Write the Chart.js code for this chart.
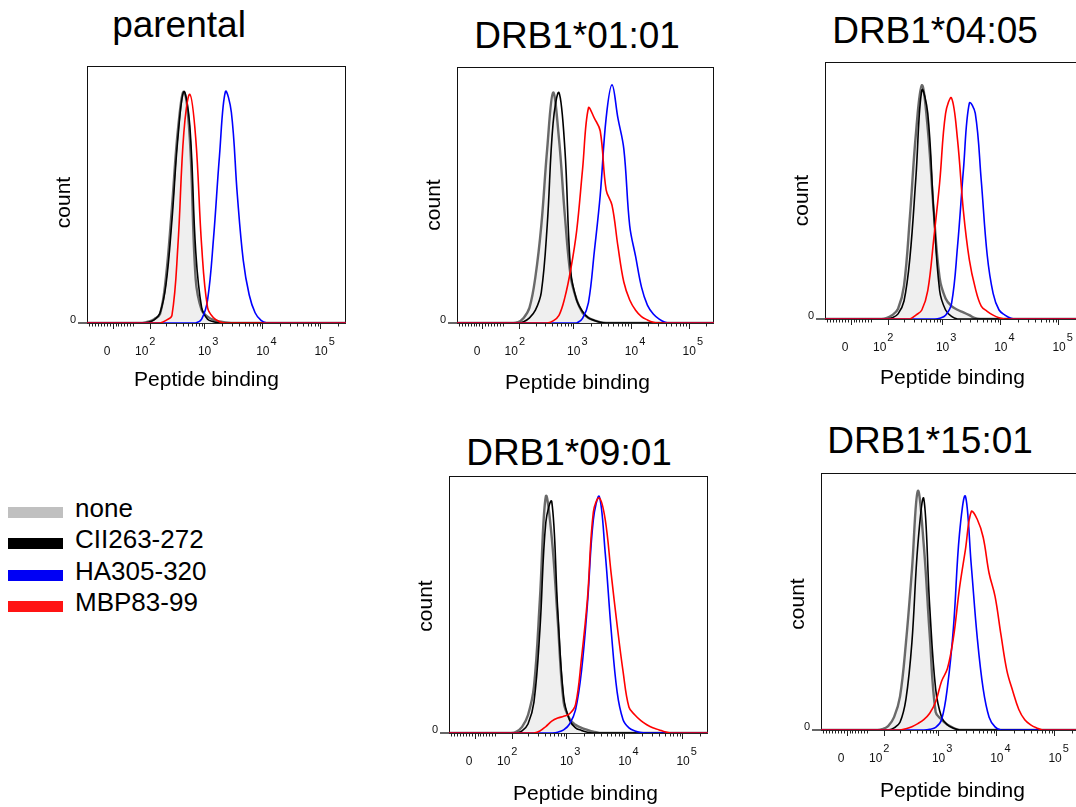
<!DOCTYPE html>
<html>
<head>
<meta charset="utf-8">
<title>Peptide binding - HLA-DR panels</title>
<script src="https://cdn.jsdelivr.net/npm/chart.js"></script>
<style>
    body { margin: 0; background: #fff; }
    #page {
        position: relative;
        width: 1076px;
        height: 807px;
        overflow: hidden;
        font-family: "Liberation Sans", Arial, sans-serif;
        color: #000;
    }
    .panel { position: absolute; }
    .panel-title {
        position: absolute;
        font-size: 37px;
        line-height: 37px;
        white-space: nowrap;
        transform: translateX(-50%);
    }
    .legend-swatch { position: absolute; left: 8px; width: 55px; height: 11px; }
    .legend-text {
        position: absolute;
        left: 75px;
        font-size: 26px;
        line-height: 26px;
        white-space: nowrap;
    }
</style>
</head>
<body>
<div id="page"></div>

<script>
    // series and panels
    var seriesNames = ['none', 'CII263-272', 'HA305-320', 'MBP83-99'];
    var panelTitles = ['parental', 'DRB1*01:01', 'DRB1*04:05', 'DRB1*09:01', 'DRB1*15:01'];
    var xAxisTitle = 'Peptide binding';
    var yAxisTitle = 'count';

    // histogram bins on the display (biexponential) channel axis
    var binX = [1.0,
        1.8, 1.9, 2.0, 2.1, 2.2, 2.3, 2.4, 2.5, 2.6, 2.7,
        2.8, 2.9, 3.0, 3.1, 3.2, 3.3, 3.4, 3.5, 3.6, 3.7,
        3.8, 3.9, 4.0, 4.1, 4.2, 4.3, 4.4, 4.5, 4.6, 4.7,
        4.8, 4.9, 5.0, 5.6];

    // counts, % of mode
    var parentalNone = [0,
        0, 0, 0, 0.5, 1.5, 3.5, 18, 45, 75, 90,
        72, 17, 5, 2.5, 1.2, 0.6, 0.2, 0, 0, 0,
        0, 0, 0, 0, 0, 0, 0, 0, 0, 0,
        0, 0, 0, 0];
    var parentalCII = [0,
        0, 0, 0, 0.3, 1.2, 4, 15, 40, 72, 90,
        77, 28, 6, 1.5, 0.5, 0, 0, 0, 0, 0,
        0, 0, 0, 0, 0, 0, 0, 0, 0, 0,
        0, 0, 0, 0];
    var parentalHA = [0,
        0, 0, 0, 0, 0, 0, 0, 0, 0, 0,
        0, 0, 1.5, 9, 33, 65, 90, 82, 50, 24.5,
        11, 4, 1, 0, 0, 0, 0, 0, 0, 0,
        0, 0, 0, 0];
    var parentalMBP = [0,
        0, 0, 0, 0, 0, 0, 1, 3, 30, 74,
        89, 72, 30, 6, 2, 0.5, 0, 0, 0, 0,
        0, 0, 0, 0, 0, 0, 0, 0, 0, 0,
        0, 0, 0, 0];

    var drb0101None = [0,
        0, 0, 0, 0.3, 2, 6, 18, 38, 68, 90,
        72, 42, 18, 9, 4, 2, 1, 0.3, 0, 0,
        0, 0, 0, 0, 0, 0, 0, 0, 0, 0,
        0, 0, 0, 0];
    var drb0101CII = [0,
        0, 0, 0, 0, 0.5, 2, 5, 12, 38, 78,
        90, 68, 20, 9, 4.5, 2, 1, 0.3, 0, 0,
        0, 0, 0, 0, 0, 0, 0, 0, 0, 0,
        0, 0, 0, 0];
    var drb0101HA = [0,
        0, 0, 0, 0, 0, 0, 0, 0, 0, 0,
        0, 0, 0, 0, 1.8, 8, 28, 50, 80, 93,
        80, 68, 38, 26, 14, 7, 3.5, 1.5, 0.3, 0,
        0, 0, 0, 0];
    var drb0101MBP = [0,
        0, 0, 0, 0, 0, 0, 0, 0, 0, 0.8,
        3, 10, 21, 36, 60, 84, 80, 75, 52, 46,
        30, 16, 9, 5, 2.5, 1.2, 0.3, 0, 0, 0,
        0, 0, 0, 0];

    var drb0405None = [0,
        0, 0, 0, 0.3, 1.5, 4, 13, 40, 72, 91,
        74, 42, 16, 8, 5, 3.6, 2.6, 1.5, 0.3, 0,
        0, 0, 0, 0, 0, 0, 0, 0, 0, 0,
        0, 0, 0, 0];
    var drb0405CII = [0,
        0, 0, 0, 0, 0.5, 2, 7, 24, 55, 89,
        80, 42, 11, 3.5, 1, 0, 0, 0, 0, 0,
        0, 0, 0, 0, 0, 0, 0, 0, 0, 0,
        0, 0, 0, 0];
    var drb0405HA = [0,
        0, 0, 0, 0, 0, 0, 0, 0, 0, 0,
        0, 0, 0.3, 1.5, 6, 28, 58, 84, 80, 54,
        25, 10, 3.5, 1.5, 0.3, 0, 0, 0, 0, 0,
        0, 0, 0, 0];
    var drb0405MBP = [0,
        0, 0, 0, 0, 0, 0, 0, 0, 1.5, 3.5,
        11, 31, 53, 80, 86, 70, 42, 23, 12, 5,
        3, 1.5, 0.5, 0, 0, 0, 0, 0, 0, 0,
        0, 0, 0, 0];

    var drb0901None = [0,
        0, 0, 0, 0, 0.5, 2.4, 7, 18, 52, 92,
        76, 44, 12, 5.5, 3.2, 2, 1.2, 0.5, 0, 0,
        0, 0, 0, 0, 0, 0, 0, 0, 0, 0,
        0, 0, 0, 0];
    var drb0901CII = [0,
        0, 0, 0, 0, 0, 0.8, 3.5, 12, 40, 82,
        90, 48, 14, 5, 2, 1, 0.3, 0, 0, 0,
        0, 0, 0, 0, 0, 0, 0, 0, 0, 0,
        0, 0, 0, 0];
    var drb0901HA = [0,
        0, 0, 0, 0, 0, 0, 0, 0, 0, 0,
        0, 0.3, 1.2, 3.5, 9, 24, 50, 83, 92, 70,
        40, 16, 5.2, 2, 0.8, 0.2, 0, 0, 0, 0,
        0, 0, 0, 0];
    var drb0901MBP = [0,
        0, 0, 0, 0, 0, 0, 0, 0, 0.8, 2.5,
        4.6, 5.8, 6.5, 7.5, 11, 29, 52, 86, 91.5, 83,
        62, 42, 24, 10, 7, 4.8, 3.2, 2, 1.3, 0.5,
        0, 0, 0, 0];

    var drb1501None = [0,
        0, 0, 0, 0.3, 1.5, 5, 13, 34, 62, 93,
        72, 37, 7, 4, 2, 0.8, 0, 0, 0, 0,
        0, 0, 0, 0, 0, 0, 0, 0, 0, 0,
        0, 0, 0, 0];
    var drb1501CII = [0,
        0, 0, 0, 0, 0, 0.8, 3, 12, 34, 72,
        90, 48, 16, 5, 2, 0.7, 0, 0, 0, 0,
        0, 0, 0, 0, 0, 0, 0, 0, 0, 0,
        0, 0, 0, 0];
    var drb1501HA = [0,
        0, 0, 0, 0, 0, 0, 0, 0, 0, 0,
        0, 0.3, 1, 4, 17, 40, 76, 91, 64, 36,
        16, 5, 1.2, 0, 0, 0, 0, 0, 0, 0,
        0, 0, 0, 0];
    var drb1501MBP = [0,
        0, 0, 0, 0, 0, 0, 0, 0.5, 1.3, 2.5,
        4, 6.5, 11, 19, 24, 36, 55, 70, 85, 82,
        75, 61, 52, 37, 23, 15, 8, 4, 2, 0.8,
        0, 0, 0, 0];

    // x axis ticks (display units)
    var tickLabelBase = ['0', '10', '10', '10', '10'];
    var tickLabelExp = ['', '2', '3', '4', '5'];
    var tickLabelPos = [1.41, 1.99, 3.05, 4.03, 5.01];
    var majorTickPos = [1.5, 2.13, 3.04, 4.02, 5.0];

    var FONT = '"Liberation Sans", Arial, sans-serif';
    var X_MIN = 1.07, X_MAX = 5.43;
    var Y_AXIS_W = 60, X_AXIS_H = 80, PAD_T = 8, PAD_R = 8;

    // minor ticks: linear part around zero, log part above 10^2
    var minorTickPos = [];
    for (var v = 1.1; v < 1.46; v += 0.05) minorTickPos.push(v);
    for (var v2 = 1.55; v2 < 1.9; v2 += 0.05) minorTickPos.push(v2);
    for (var d = 1; d < majorTickPos.length; d++) {
        var start = majorTickPos[d];
        var span = d + 1 < majorTickPos.length ? majorTickPos[d + 1] - start : 0.98;
        for (var k = 2; k <= 9; k++) {
            var p = start + Math.log10(k) * span;
            if (p < X_MAX) minorTickPos.push(p);
        }
    }

    var seriesStyle = [
        { borderColor: 'rgba(80, 80, 80, 0.85)', borderWidth: 2.4, backgroundColor: '#efefef', fill: 'origin', order: 3 },
        { borderColor: '#000000', borderWidth: 1.6, fill: false, order: 2 },
        { borderColor: '#0000ff', borderWidth: 1.6, fill: false, order: 1 },
        { borderColor: '#ff0000', borderWidth: 1.6, fill: false, order: 0 }
    ];
    var legendColors = ['#c0c0c0', '#000000', '#0000f5', '#ff1414'];

    // plot box in page pixels; title / axis-title offsets
    var panels = [
        { series: [parentalNone, parentalCII, parentalHA, parentalMBP], left: 87, top: 66, w: 259, h: 257,
          titleX: 179, titleBase: 37, countDy: 8, xTitleDx: -10, xTitleDy: 57 },
        { series: [drb0101None, drb0101CII, drb0101HA, drb0101MBP], left: 457, top: 67, w: 257, h: 256,
          titleX: 577, titleBase: 48, countDy: 10, xTitleDx: -8, xTitleDy: 60 },
        { series: [drb0405None, drb0405CII, drb0405HA, drb0405MBP], left: 825, top: 62, w: 259, h: 257,
          titleX: 935, titleBase: 43, countDy: 10, xTitleDx: -2, xTitleDy: 59 },
        { series: [drb0901None, drb0901CII, drb0901HA, drb0901MBP], left: 449, top: 476, w: 259, h: 257,
          titleX: 569, titleBase: 465, countDy: 1.5, xTitleDx: 7, xTitleDy: 61 },
        { series: [drb1501None, drb1501CII, drb1501HA, drb1501MBP], left: 821, top: 473, w: 259, h: 257,
          titleX: 930, titleBase: 453, countDy: 2.5, xTitleDx: 2, xTitleDy: 61 }
    ];

    // frame, flow-style x ticks with superscript labels, y zero label, axis titles
    var flowAxis = {
        id: 'flowAxis',
        beforeDatasetsDraw: function (chart, args, opts) {
            var ctx = chart.ctx, a = chart.chartArea, x = chart.scales.x;
            ctx.save();
            ctx.strokeStyle = '#111';
            ctx.lineWidth = 1;
            ctx.strokeRect(a.left + 0.5, a.top + 0.5, a.right - a.left - 1, a.bottom - a.top);

            ctx.lineWidth = 1.5;
            ctx.strokeStyle = '#333';
            ctx.beginPath();
            ctx.moveTo(a.left - 9, a.bottom);
            ctx.lineTo(a.right, a.bottom);
            ctx.stroke();

            ctx.lineWidth = 1;
            ctx.strokeStyle = '#222';
            ctx.beginPath();
            majorTickPos.forEach(function (t) {
                var px = Math.round(x.getPixelForValue(t)) + 0.5;
                ctx.moveTo(px, a.bottom);
                ctx.lineTo(px, a.bottom + 6);
            });
            minorTickPos.forEach(function (t) {
                var px = Math.round(x.getPixelForValue(t)) + 0.5;
                ctx.moveTo(px, a.bottom);
                ctx.lineTo(px, a.bottom + 3.5);
            });
            ctx.stroke();

            ctx.fillStyle = '#111';
            ctx.textBaseline = 'middle';
            tickLabelBase.forEach(function (txt, i) {
                var px = x.getPixelForValue(tickLabelPos[i]);
                ctx.font = '12px ' + FONT;
                ctx.textAlign = 'center';
                ctx.fillText(txt, px, a.bottom + 29);
                if (tickLabelExp[i]) {
                    var w = ctx.measureText(txt).width;
                    ctx.font = '11px ' + FONT;
                    ctx.textAlign = 'left';
                    ctx.fillText(tickLabelExp[i], px + w / 2 + 1, a.bottom + 19);
                }
            });

            ctx.font = '11px ' + FONT;
            ctx.textAlign = 'right';
            ctx.fillText('0', a.left - 11, a.bottom - 3);

            // axis titles
            ctx.fillStyle = '#000';
            ctx.font = '21px ' + FONT;
            ctx.textAlign = 'center';
            ctx.fillText(xAxisTitle, (a.left + a.right) / 2 + opts.xTitleDx, a.bottom + opts.xTitleDy);
            ctx.translate(a.left - 23, (a.top + a.bottom) / 2 + opts.countDy);
            ctx.rotate(-Math.PI / 2);
            ctx.fillText(yAxisTitle, 0, 0);
            ctx.restore();
        }
    };

    var page = document.getElementById('page');

    panels.forEach(function (p, n) {
        var title = document.createElement('div');
        title.className = 'panel-title';
        title.textContent = panelTitles[n];
        title.style.left = p.titleX + 'px';
        title.style.top = (p.titleBase - 31.3) + 'px';
        page.appendChild(title);

        var wrap = document.createElement('div');
        wrap.className = 'panel';
        wrap.style.left = (p.left - Y_AXIS_W) + 'px';
        wrap.style.top = (p.top - PAD_T) + 'px';
        var canvas = document.createElement('canvas');
        canvas.width = Y_AXIS_W + p.w + PAD_R;
        canvas.height = PAD_T + p.h + X_AXIS_H;
        wrap.appendChild(canvas);
        page.appendChild(wrap);

        new Chart(canvas, {
            type: 'line',
            data: {
                datasets: p.series.map(function (vals, i) {
                    return Object.assign({
                        label: seriesNames[i],
                        data: binX.map(function (bx, j) { return { x: bx, y: vals[j] }; }),
                        pointRadius: 0,
                        tension: 0.38
                    }, seriesStyle[i]);
                })
            },
            options: {
                responsive: false,
                animation: false,
                events: [],
                layout: { padding: { top: PAD_T, right: PAD_R, left: 0, bottom: 0 } },
                plugins: {
                    legend: { display: false },
                    tooltip: { enabled: false },
                    title: { display: false },
                    flowAxis: { countDy: p.countDy, xTitleDx: p.xTitleDx, xTitleDy: p.xTitleDy }
                },
                scales: {
                    x: {
                        type: 'linear',
                        min: X_MIN,
                        max: X_MAX,
                        ticks: { display: false },
                        grid: { display: false },
                        border: { display: false },
                        afterFit: function (s) { s.height = X_AXIS_H; }
                    },
                    y: {
                        min: 0,
                        max: 100,
                        ticks: { display: false },
                        grid: { display: false },
                        border: { display: false },
                        afterFit: function (s) { s.width = Y_AXIS_W; }
                    }
                }
            },
            plugins: [flowAxis]
        });
    });

    // legend
    seriesNames.forEach(function (name, i) {
        var base = 517 + i * 31.3;
        var sw = document.createElement('div');
        sw.className = 'legend-swatch';
        sw.style.top = (base - 10) + 'px';
        sw.style.background = legendColors[i];
        page.appendChild(sw);
        var tx = document.createElement('div');
        tx.className = 'legend-text';
        tx.style.top = (base - 22) + 'px';
        tx.textContent = name;
        page.appendChild(tx);
    });
</script>
</body>
</html>
